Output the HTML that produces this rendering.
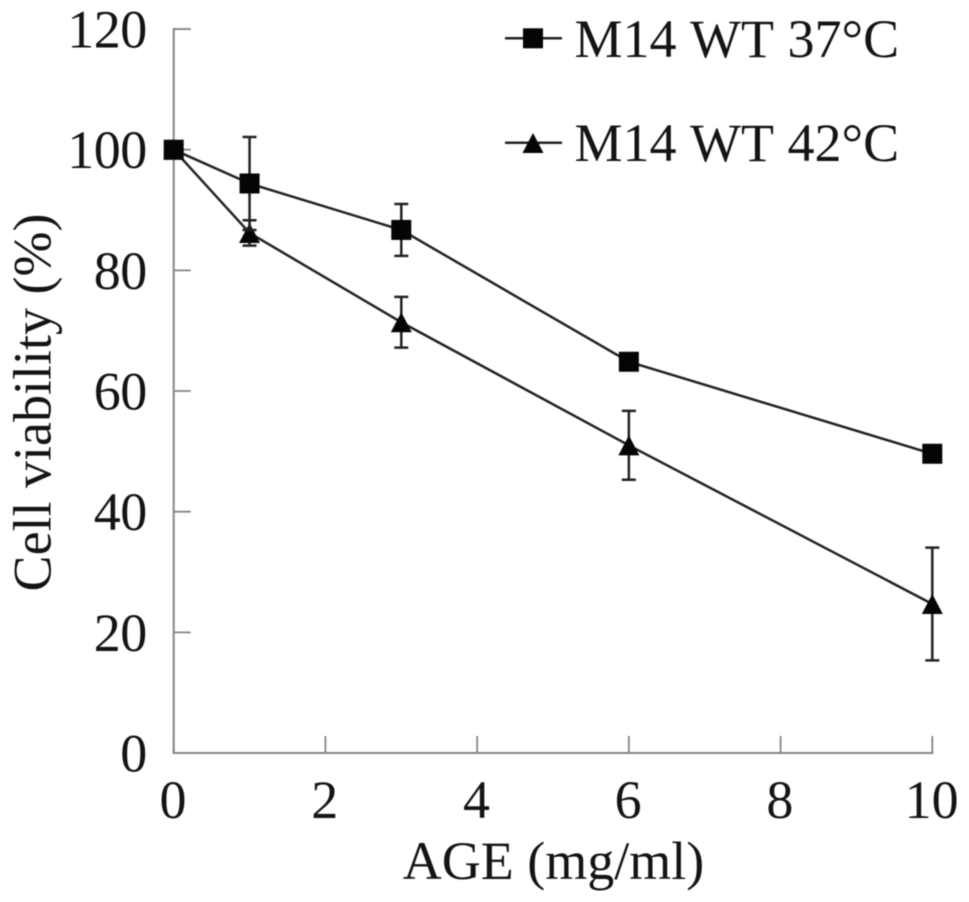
<!DOCTYPE html>
<html>
<head>
<meta charset="utf-8">
<style>
html,body{margin:0;padding:0;background:#fff;}
svg{display:block;filter:blur(0.5px);}
text{font-family:"Liberation Serif",serif;fill:#141414;}
</style>
</head>
<body>
<svg id="chart" width="969" height="902" viewBox="0 0 969 902"></svg>
<script>
const xTicks = [0, 2, 4, 6, 8, 10];
const yTicks = [0, 20, 40, 60, 80, 100, 120];
const doses = [0, 1, 3, 6, 10];
const wt37Values = [100, 94.4, 86.7, 64.85, 49.6];
const wt37Errors = [0, 7.7, 4.3, 0, 0];
const wt42Values = [100, 86.2, 71.4, 51, 24.7];
const wt42Errors = [0, 2.1, 4.2, 5.7, 9.35];
const xLabel = "AGE (mg/ml)";
const yLabel = "Cell viability (%)";
const legend37 = "M14 WT 37°C";
const legend42 = "M14 WT 42°C";

const svg = document.getElementById('chart');
const NS = 'http://www.w3.org/2000/svg';
const xAt = v => 173.7 + v * 75.86;
const yAt = v => 753 - v * 6.033;
const ink = '#222';
const axisInk = '#858585';

function make(tag, attrs, parent) {
  const el = document.createElementNS(NS, tag);
  for (const k in attrs) el.setAttribute(k, attrs[k]);
  (parent || svg).appendChild(el);
  return el;
}
function line(x1, y1, x2, y2, w, color) {
  return make('line', {x1, y1, x2, y2, stroke: color || ink, 'stroke-width': w || 2});
}
function label(txt, x, y, size, anchor) {
  const t = make('text', {x, y, 'font-size': size, 'text-anchor': anchor || 'middle'});
  t.textContent = txt;
  return t;
}
function square(cx, cy) {
  return make('rect', {x: cx - 10, y: cy - 10, width: 20, height: 20, fill: '#050505'});
}
function triangle(cx, cy) {
  return make('polygon', {points: `${cx},${cy - 10} ${cx + 10.5},${cy + 10} ${cx - 10.5},${cy + 10}`, fill: '#050505'});
}

const yAxis = line(xAt(0), yAt(120) - 1, xAt(0), yAt(0) + 1, 2, axisInk);


const xAxis = line(xAt(0) - 1, yAt(0), xAt(10) + 1, yAt(0), 2, axisInk);



yTicks.forEach(v => {
  const tick = line(xAt(0), yAt(v), xAt(0) + 17, yAt(v), 1.8, axisInk);
  
  
  const t = label(String(v), 146.8, yAt(v) + 18.5, 54, 'end');
  t.setAttribute('letter-spacing', '-0.5');
  
  
});
xTicks.forEach(v => {
  const tick = line(xAt(v), yAt(0) - 17, xAt(v), yAt(0), 1.8, axisInk);
  
  
  const t = label(String(v), xAt(v) - 0.7, 818, 54);
  
  
});

const xt = label(xLabel, 553.5, 879, 54);


const yt = label(yLabel, 0, 0, 54);
yt.setAttribute('transform', 'translate(50.5,402.5) rotate(-90)');



function drawSeries(name, values, errors, marker) {
  const g = make('g', {});
  
  
  const pts = doses.map((d, i) => xAt(d) + ',' + yAt(values[i])).join(' ');
  const poly = make('polyline', {points: pts, fill: 'none', stroke: ink, 'stroke-width': 2.5}, g);
  
  
  doses.forEach((d, i) => {
    if (errors[i] > 0) {
      const x = xAt(d), hi = yAt(values[i] + errors[i]), lo = yAt(values[i] - errors[i]);
      const eb = make('path', {
        d: `M${x - 7} ${hi}H${x + 7}M${x} ${hi}V${lo}M${x - 7} ${lo}H${x + 7}`,
        fill: 'none', stroke: ink, 'stroke-width': 2.5
      }, g);
      
      
    }
  });
  doses.forEach((d, i) => {
    const m = marker(xAt(d), yAt(values[i]));
    g.appendChild(m);
    
    
  });
}
drawSeries('series-42c', wt42Values, wt42Errors, triangle);
drawSeries('series-37c', wt37Values, wt37Errors, square);

const l1 = line(505, 38.3, 562, 38.3, 2.5);


const m1 = square(533, 38.3);


const t1 = label(legend37, 574.5, 57, 54, 'start');
t1.setAttribute('word-spacing', '1');


const l2 = line(505, 142.7, 562, 142.7, 2.5);


const m2 = triangle(533, 143);


const t2 = label(legend42, 574.5, 161, 54, 'start');
t2.setAttribute('word-spacing', '1');


</script>
</body>
</html>
